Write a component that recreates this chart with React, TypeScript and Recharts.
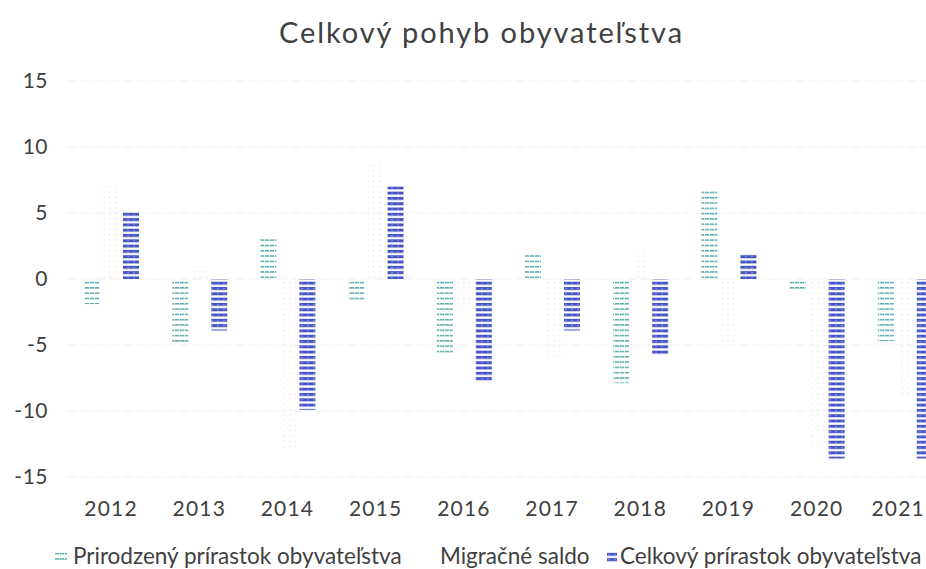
import React from 'react';
import { BarChart, Bar, XAxis, YAxis, CartesianGrid } from 'recharts';

// Celkový pohyb obyvateľstva (2012–2021)
const years = ['2012', '2013', '2014', '2015', '2016', '2017', '2018', '2019', '2020', '2021'];
const natural = [-1.9, -4.8, 3.1, -1.8, -5.8, 2.0, -7.9, 6.8, -0.9, -4.7];
const migration = [7.0, 0.9, -13.0, 8.8, -2.0, -5.9, 2.1, -4.9, -12.7, -8.9];
const total = [5.1, -3.9, -9.9, 7.0, -7.8, -3.9, -5.8, 1.9, -13.6, -13.6];
const yTicks = [-15, -10, -5, 0, 5, 10, 15];

const data = years.map((year, i) => ({
  year,
  natural: natural[i],
  migration: migration[i],
  total: total[i],
}));

const FONT = 'Lato, "Open Sans", sans-serif';
const TEXT = '#404040';
const VISIBLE_RIGHT = 925;

// year label; the last one is pulled in so it stays inside the visible frame
function YearTick(props: any) {
  const { x, y, payload } = props;
  const half = 26;
  const clamp = x + half > VISIBLE_RIGHT;
  return (
    <text
      x={clamp ? VISIBLE_RIGHT : x}
      y={y}
      dy="0.71em"
      textAnchor={clamp ? 'end' : 'middle'}
      fontSize={21}
      fill={TEXT}
      fontFamily={FONT}
      letterSpacing={1.2}
    >
      {payload.value}
    </text>
  );
}

export default function App() {
  return (
    <div style={{ position: 'absolute', left: 0, top: 0, width: 926, height: 569, overflow: 'hidden', background: '#fff', fontFamily: FONT }}>
      {/* Title */}
      <div style={{ position: 'absolute', left: 0, top: 14, width: 963, textAlign: 'center', fontSize: 29, letterSpacing: 1.9, color: TEXT }}>
        Celkový pohyb obyvateľstva
      </div>

      <div style={{ position: 'absolute', left: 0, top: 0 }}>
        <BarChart
          width={960}
          height={569}
          data={data}
          margin={{ top: 81, right: 11, bottom: 62, left: 0 }}
          barSize={16}
          barGap={3.5}
        >
          <defs>
            <pattern id="pTeal" width="5" height="5.3" patternUnits="userSpaceOnUse">
              <rect x="0" y="1" width="4" height="1.3" fill="#3f9f9f" />
              <rect x="4" y="1.6" width="1" height="0.8" fill="#8fcaca" />
            </pattern>
            <pattern id="pMig" width="6" height="5.3" patternUnits="userSpaceOnUse">
              <rect x="1" y="1" width="2" height="1" fill="#e8e8e8" />
            </pattern>
            <pattern id="pBlue" width="6" height="5.3" patternUnits="userSpaceOnUse">
              <rect x="0" y="0.8" width="6" height="3" fill="#4354c2" />
              <rect x="1" y="2" width="2" height="0.8" fill="#8e9be2" />
            </pattern>
          </defs>
          <CartesianGrid vertical={false} stroke="#f0f0f0" strokeDasharray="10 4" />
          <XAxis
            dataKey="year"
            axisLine={false}
            tickLine={false}
            tickSize={0}
            tickMargin={24}
            tick={<YearTick />}
          />
          <YAxis
            width={67}
            domain={[-15, 15]}
            ticks={yTicks}
            axisLine={false}
            tickLine={false}
            tickSize={0}
            tickMargin={19}
            tick={{ fontSize: 21, fill: TEXT, fontFamily: FONT, letterSpacing: 0.5 }}
          />
          <Bar dataKey="natural" fill="url(#pTeal)" isAnimationActive={false} />
          <Bar dataKey="migration" fill="url(#pMig)" isAnimationActive={false} />
          <Bar dataKey="total" fill="url(#pBlue)" isAnimationActive={false} />
        </BarChart>
      </div>

      {/* Legend */}
      <div style={{ position: 'absolute', left: 0, top: 542, width: 926, height: 27, fontSize: 22.5, color: TEXT, whiteSpace: 'nowrap' }}>
        <svg style={{ position: 'absolute', left: 55, top: 10 }} width={12} height={11}>
          <rect width={12} height={11} fill="url(#pTeal)" />
        </svg>
        <span style={{ position: 'absolute', left: 73, top: 0 }}>Prirodzený prírastok obyvateľstva</span>
        <span style={{ position: 'absolute', left: 440, top: 0 }}>Migračné saldo</span>
        <svg style={{ position: 'absolute', left: 607, top: 10 }} width={10} height={11}>
          <rect width={10} height={11} fill="url(#pBlue)" />
        </svg>
        <span style={{ position: 'absolute', left: 620, top: 0 }}>Celkový prírastok obyvateľstva</span>
      </div>
    </div>
  );
}
